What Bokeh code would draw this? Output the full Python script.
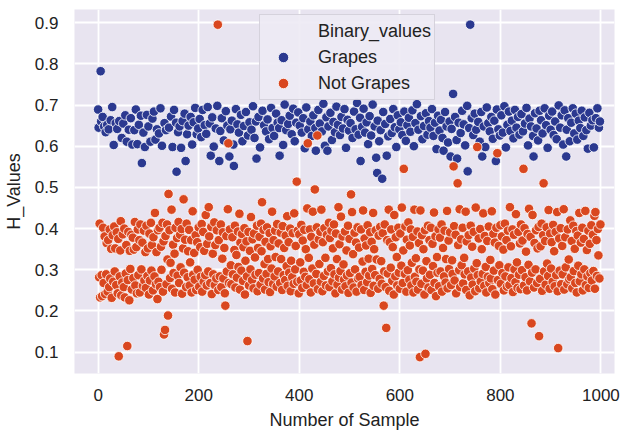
from bokeh.plotting import figure
from bokeh.models import ColumnDataSource, Legend, LegendItem, FixedTicker, Range1d
from bokeh.embed import file_html
from bokeh.resources import INLINE

# H values (in thousandths) for samples 0..999
h_values_thousandths = [
    689, 645, 282, 412, 233, 782, 660, 287, 236, 671, 402, 268, 648, 381, 241, 634, 289, 365, 652, 247,
    372, 641, 258, 398, 279, 663, 351, 232, 695, 384, 271, 603, 405, 296, 352, 656, 263, 391, 642, 243,
    375, 90, 661, 284, 347, 418, 238, 620, 269, 386, 655, 258, 400, 233, 675, 291, 360, 611, 115, 275,
    392, 640, 226, 346, 302, 668, 385, 252, 604, 378, 280, 349, 639, 416, 262, 689, 355, 243, 605, 398,
    287, 652, 372, 245, 410, 674, 301, 559, 366, 261, 633, 395, 274, 598, 343, 256, 407, 676, 285, 352,
    648, 240, 388, 274, 611, 414, 298, 360, 667, 250, 379, 684, 284, 438, 616, 265, 343, 641, 229, 396,
    271, 631, 402, 258, 692, 356, 300, 601, 414, 247, 369, 143, 656, 154, 382, 639, 265, 410, 325, 189,
    484, 645, 396, 280, 317, 672, 446, 254, 598, 361, 292, 688, 339, 245, 402, 657, 538, 377, 286, 634,
    416, 268, 648, 385, 306, 596, 399, 242, 661, 352, 471, 293, 679, 373, 564, 258, 412, 629, 282, 345,
    650, 397, 262, 318, 671, 372, 245, 604, 442, 288, 658, 341, 276, 693, 384, 251, 629, 367, 300, 643,
    403, 259, 666, 355, 283, 622, 411, 247, 688, 392, 271, 346, 651, 287, 433, 630, 262, 363, 695, 296,
    452, 381, 655, 268, 577, 404, 241, 670, 339, 289, 599, 415, 263, 360, 643, 279, 396, 698, 895, 251,
    372, 564, 284, 637, 410, 258, 668, 327, 391, 279, 614, 353, 243, 213, 685, 382, 296, 650, 447, 607,
    268, 575, 398, 641, 311, 265, 662, 379, 289, 604, 552, 348, 407, 257, 690, 336, 281, 653, 393, 307,
    633, 436, 252, 366, 676, 298, 387, 612, 273, 355, 649, 401, 240, 322, 683, 369, 284, 127, 626, 392,
    262, 658, 346, 301, 428, 640, 275, 374, 697, 255, 388, 620, 330, 288, 660, 570, 407, 248, 353, 671,
    292, 380, 597, 264, 412, 345, 464, 686, 279, 397, 651, 314, 252, 368, 636, 290, 403, 665, 326, 270,
    617, 389, 246, 357, 693, 303, 441, 644, 266, 372, 625, 284, 395, 331, 679, 259, 411, 657, 296, 364,
    644, 577, 268, 390, 326, 663, 251, 406, 603, 287, 353, 701, 275, 383, 639, 309, 430, 261, 654, 367,
    293, 674, 400, 248, 322, 629, 282, 389, 691, 266, 437, 612, 301, 358, 657, 514, 271, 395, 682, 243,
    386, 650, 318, 274, 409, 633, 256, 371, 668, 295, 397, 595, 283, 350, 694, 263, 449, 607, 641, 329,
    277, 398, 660, 245, 380, 625, 303, 441, 675, 267, 361, 495, 644, 589, 290, 403, 626, 253, 688, 374,
    314, 655, 392, 271, 446, 636, 248, 367, 703, 285, 401, 601, 329, 262, 670, 385, 589, 296, 648, 414,
    258, 377, 681, 304, 395, 615, 272, 352, 659, 410, 289, 634, 243, 388, 696, 326, 264, 652, 452, 281,
    362, 627, 297, 429, 671, 252, 381, 643, 313, 276, 690, 393, 260, 596, 347, 286, 664, 407, 244, 638,
    375, 292, 656, 483, 269, 440, 620, 338, 257, 684, 390, 301, 641, 366, 247, 705, 403, 279, 628, 354,
    283, 669, 564, 398, 263, 647, 320, 444, 691, 251, 376, 633, 295, 359, 658, 270, 408, 605, 327, 286,
    673, 391, 244, 626, 368, 302, 701, 438, 261, 350, 648, 287, 396, 572, 325, 535, 662, 254, 383, 612,
    278, 404, 639, 321, 266, 521, 389, 683, 213, 296, 410, 654, 258, 159, 577, 372, 291, 624, 446, 249,
    367, 666, 305, 398, 632, 273, 355, 690, 240, 433, 646, 284, 379, 598, 331, 262, 675, 402, 293, 641,
    254, 388, 658, 310, 451, 627, 268, 347, 545, 684, 290, 405, 613, 247, 373, 651, 299, 415, 669, 276,
    359, 635, 398, 262, 317, 687, 380, 245, 600, 446, 283, 656, 328, 271, 702, 393, 252, 640, 365, 301,
    88, 444, 673, 266, 384, 617, 298, 350, 649, 240, 396, 96, 680, 321, 279, 628, 407, 257, 661, 372,
    288, 645, 402, 251, 690, 363, 309, 625, 439, 268, 657, 381, 236, 593, 331, 293, 674, 398, 260, 638,
    378, 296, 664, 410, 247, 620, 353, 589, 284, 395, 683, 269, 326, 648, 443, 255, 609, 371, 302, 660,
    391, 575, 263, 642, 323, 290, 727, 551, 406, 274, 671, 385, 243, 615, 570, 510, 360, 657, 299, 447,
    258, 632, 374, 311, 686, 402, 267, 653, 329, 289, 602, 441, 251, 369, 698, 539, 296, 384, 644, 238,
    895, 407, 281, 668, 356, 264, 627, 392, 303, 679, 248, 451, 640, 316, 598, 287, 659, 376, 255, 611,
    399, 272, 683, 350, 575, 290, 437, 648, 261, 382, 598, 307, 245, 694, 370, 283, 656, 405, 268, 636,
    324, 279, 671, 442, 253, 618, 387, 298, 662, 366, 240, 564, 402, 689, 583, 275, 641, 358, 311, 626,
    408, 266, 675, 381, 292, 633, 349, 250, 697, 412, 284, 597, 372, 259, 652, 395, 306, 684, 263, 452,
    637, 357, 280, 662, 398, 246, 619, 385, 301, 688, 270, 435, 645, 318, 256, 671, 392, 288, 628, 364,
    253, 410, 678, 299, 371, 636, 545, 262, 401, 655, 282, 344, 693, 250, 387, 602, 312, 448, 667, 272,
    380, 648, 170, 293, 433, 625, 575, 257, 365, 680, 301, 396, 643, 268, 352, 614, 404, 139, 686, 278,
    357, 663, 412, 249, 631, 384, 510, 296, 692, 370, 264, 651, 403, 315, 596, 285, 445, 674, 254, 388,
    640, 303, 367, 684, 271, 409, 627, 345, 260, 660, 392, 287, 617, 440, 248, 110, 699, 376, 298, 645,
    401, 265, 675, 358, 289, 604, 447, 252, 687, 379, 306, 575, 640, 265, 398, 668, 325, 277, 612, 420,
    282, 657, 370, 255, 692, 407, 297, 631, 351, 268, 679, 394, 245, 616, 383, 310, 662, 438, 272, 644,
    366, 289, 686, 402, 250, 625, 375, 301, 670, 443, 263, 639, 348, 284, 594, 395, 256, 681, 363, 292,
    650, 408, 274, 663, 385, 297, 597, 431, 254, 440, 668, 372, 285, 692, 399, 335, 645, 279, 660, 410,
]

# samples above 0.5 that are labelled "Not Grapes"
not_grapes_above_half = [238, 259, 395, 417, 436, 608, 707, 715, 754, 794, 846, 886]

class_names = ["Grapes", "Not Grapes"]
x_ticks = [0, 200, 400, 600, 800, 1000]
y_ticks = [0.1, 0.2, 0.3, 0.4, 0.5, 0.6, 0.7, 0.8, 0.9]
y_tick_labels = ["0.1", "0.2", "0.3", "0.4", "0.5", "0.6", "0.7", "0.8", "0.9"]

samples = list(range(len(h_values_thousandths)))
h_values = [v / 1000.0 for v in h_values_thousandths]
odd_set = set(not_grapes_above_half)
binary_values = [
    class_names[0] if (h >= 0.5 and i not in odd_set) else class_names[1]
    for i, h in zip(samples, h_values)
]

src_g = ColumnDataSource(dict(
    x=[s for s, b in zip(samples, binary_values) if b == "Grapes"],
    y=[h for h, b in zip(h_values, binary_values) if b == "Grapes"]))
src_n = ColumnDataSource(dict(
    x=[s for s, b in zip(samples, binary_values) if b == "Not Grapes"],
    y=[h for h, b in zip(h_values, binary_values) if b == "Not Grapes"]))

FONT = "Liberation Sans"
TXT = "#222222"
BLUE = "#2b3990"
RED = "#d9471f"

p = figure(width=620, height=432, output_backend="svg", toolbar_location=None,
           x_range=Range1d(-47, 1027), y_range=Range1d(0.0483, 0.9318),
           min_border_left=74, min_border_right=6, min_border_top=9, min_border_bottom=59)
p.background_fill_color = "#e8e4f0"
p.border_fill_color = "white"
p.outline_line_color = None

for g in (p.xgrid, p.ygrid):
    g.grid_line_color = "white"
    g.grid_line_width = 1.8
p.xgrid.ticker = FixedTicker(ticks=x_ticks)
p.ygrid.ticker = FixedTicker(ticks=y_ticks)

p.xaxis.ticker = FixedTicker(ticks=x_ticks)
p.yaxis.ticker = FixedTicker(ticks=y_ticks)
p.yaxis.major_label_overrides = {t: l for t, l in zip(y_ticks, y_tick_labels)}

for ax in (p.xaxis[0], p.yaxis[0]):
    ax.axis_line_color = None
    ax.major_tick_line_color = None
    ax.minor_tick_line_color = None
    ax.major_tick_out = 0
    ax.major_tick_in = 0
    ax.major_label_text_font = FONT
    ax.major_label_text_font_size = "17px"
    ax.major_label_text_color = TXT
    ax.axis_label_text_font = FONT
    ax.axis_label_text_font_size = "18px"
    ax.axis_label_text_font_style = "normal"
    ax.axis_label_text_color = TXT

p.xaxis.axis_label = "Number of Sample"
p.yaxis.axis_label = "H_Values"
p.xaxis.major_label_standoff = 15
p.yaxis.major_label_standoff = 16
p.xaxis.axis_label_standoff = 6
p.yaxis.axis_label_standoff = 8

dummy = p.scatter(x=[], y=[], size=0, fill_alpha=0, line_alpha=0)
rg = p.scatter("x", "y", source=src_g, size=9.5, fill_color=BLUE,
               line_color="white", line_width=0.8)
rn = p.scatter("x", "y", source=src_n, size=9.5, fill_color=RED,
               line_color="white", line_width=0.8)

legend = Legend(items=[
    LegendItem(label="Binary_values", renderers=[dummy]),
    LegendItem(label="Grapes", renderers=[rg]),
    LegendItem(label="Not Grapes", renderers=[rn]),
], location=(185, 273))
legend.label_text_font = FONT
legend.label_text_font_size = "18px"
legend.label_text_color = TXT
legend.glyph_width = 40
legend.glyph_height = 26
legend.label_height = 26
legend.label_standoff = 15
legend.spacing = 0
legend.padding = 3
legend.margin = 0
legend.border_line_color = "#bdbac4"
legend.border_line_width = 1.2
legend.background_fill_color = "#edeaf4"
legend.background_fill_alpha = 0.9
p.add_layout(legend, "center")

open("out.html", "w").write(file_html(p, INLINE))
